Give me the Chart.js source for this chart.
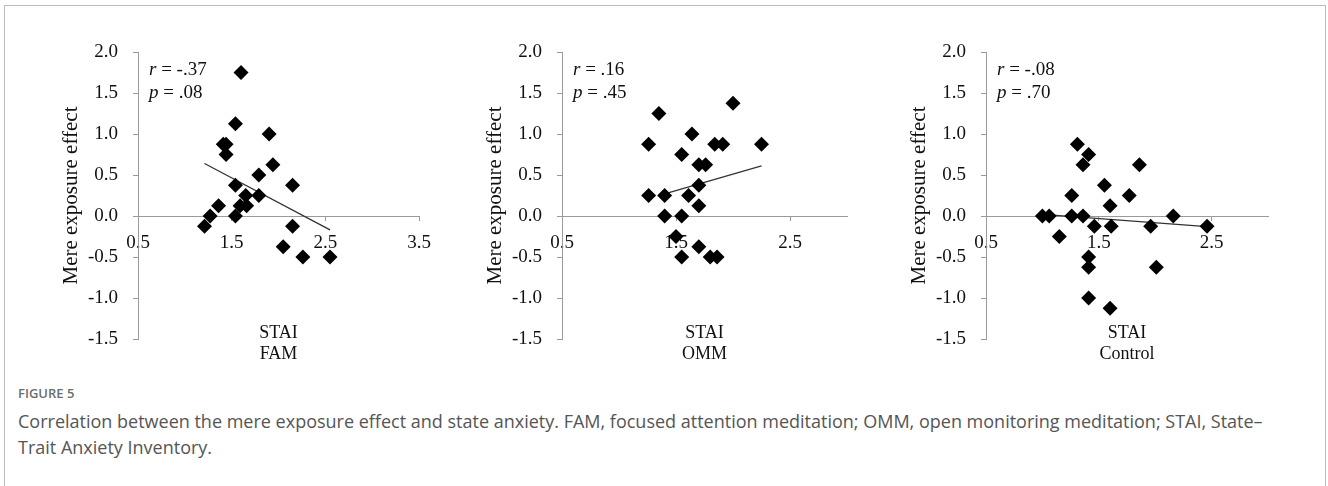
<!DOCTYPE html>
<html>
<head>
<meta charset="utf-8">
<script src="https://cdn.jsdelivr.net/npm/chart.js@4.4.1/dist/chart.umd.min.js"></script>
<style>
  body { margin: 0; background: #fff; width: 1328px; height: 486px; overflow: hidden; position: relative; }
  .frame { position: absolute; left: 4px; top: 5px; width: 1322px; height: 490px; border: 1px solid #bcbcbc; box-sizing: border-box; }
  .panel { position: absolute; top: 0; width: 440px; height: 380px; }
  .fig { position: absolute; left: 18px; top: 384px; font-family: "Open Sans", sans-serif; font-weight: 600; font-size: 13px; color: #6d6d6d; }
  .cap { position: absolute; left: 18px; top: 408px; width: 1300px; font-family: "Open Sans", sans-serif; font-size: 18px; line-height: 26px; color: #555; white-space: nowrap; }
</style>
</head>
<body>
<div class="frame"></div>
<div class="panel" style="left:40px"><canvas id="famChart"></canvas></div>
<div class="panel" style="left:464px"><canvas id="ommChart"></canvas></div>
<div class="panel" style="left:888px"><canvas id="ctrlChart"></canvas></div>
<div class="fig">FIGURE 5</div>
<div class="cap">Correlation between the mere exposure effect and state anxiety. FAM, focused attention meditation; OMM, open monitoring meditation; STAI, State–<br>Trait Anxiety Inventory.</div>
<script>
// tick labels
const yTicks = [-1.5, -1.0, -0.5, 0.0, 0.5, 1.0, 1.5, 2.0];
const xTicksFam = [0.5, 1.5, 2.5, 3.5];
const xTicksOther = [0.5, 1.5, 2.5];

// FAM
const famX = [1.60, 1.54, 1.90, 1.41, 1.44, 1.44, 1.94, 1.79, 1.54, 2.15, 1.65, 1.79, 1.36, 1.59, 1.66, 1.27, 1.54, 1.21, 2.15, 2.05, 2.26, 2.55];
const famY = [1.75, 1.125, 1.0, 0.875, 0.875, 0.75, 0.625, 0.5, 0.375, 0.375, 0.25, 0.25, 0.125, 0.125, 0.125, 0.0, 0.0, -0.125, -0.125, -0.375, -0.5, -0.5];
const famTrendX = [1.21, 2.55];
const famTrendY = [0.64, -0.17];

// OMM
const ommX = [1.35, 2.00, 1.26, 1.64, 1.55, 1.70, 1.76, 1.84, 1.91, 2.25, 1.26, 1.40, 1.61, 1.70, 1.70, 1.40, 1.55, 1.50, 1.55, 1.70, 1.80, 1.86];
const ommY = [1.25, 1.375, 0.875, 1.0, 0.75, 0.625, 0.625, 0.875, 0.875, 0.875, 0.25, 0.25, 0.25, 0.375, 0.125, 0.0, 0.0, -0.25, -0.5, -0.375, -0.5, -0.5];
const ommTrendX = [1.40, 2.25];
const ommTrendY = [0.27, 0.61];

// Control
const ctrlX = [1.31, 1.41, 1.36, 1.86, 1.55, 1.26, 1.77, 1.60, 1.00, 1.06, 1.26, 1.36, 2.16, 1.46, 1.61, 1.96, 2.46, 1.15, 1.41, 1.41, 2.01, 1.41, 1.60];
const ctrlY = [0.875, 0.75, 0.625, 0.625, 0.375, 0.25, 0.25, 0.125, 0.0, 0.0, 0.0, 0.0, 0.0, -0.125, -0.125, -0.125, -0.125, -0.25, -0.5, -0.625, -0.625, -1.0, -1.125];
const ctrlTrendX = [1.00, 2.46];
const ctrlTrendY = [0.02, -0.13];

const serif = '"Liberation Serif", "Times New Roman", serif';
const axisGray = '#9a9a9a';

function pts(xs, ys) {
  return xs.map((x, i) => ({ x: x, y: ys[i] }));
}

// r / p text and the two-line x title
const textPlugin = {
  id: 'panelText',
  afterDraw(chart) {
    const o = chart.options.plugins.panelText;
    const ctx = chart.ctx;
    const a = chart.chartArea;
    ctx.save();
    ctx.fillStyle = '#111';
    ctx.textBaseline = 'middle';
    const stats = [['r', ' = ' + o.r, 70], ['p', ' = ' + o.p, 93]];
    stats.forEach(s => {
      let x = a.left + 11;
      ctx.textAlign = 'left';
      ctx.font = 'italic 19px ' + serif;
      ctx.fillText(s[0], x, s[2]);
      x += ctx.measureText(s[0]).width;
      ctx.font = '19px ' + serif;
      ctx.fillText(s[1], x, s[2]);
    });
    ctx.textAlign = 'center';
    ctx.font = '18px ' + serif;
    const cx = (a.left + a.right) / 2;
    ctx.fillText('STAI', cx, 333);
    ctx.fillText(o.group, cx, 354);
    ctx.restore();
  }
};

function makeChart(id, xs, ys, tx, ty, xMax, xTicks, stats, rightPad) {
  new Chart(document.getElementById(id), {
    type: 'scatter',
    data: {
      datasets: [{
        data: pts(xs, ys),
        pointStyle: 'rectRot',
        pointRadius: 7.5,
        pointHoverRadius: 7.5,
        backgroundColor: '#000',
        borderColor: '#000',
        borderWidth: 0
      }, {
        data: pts(tx, ty),
        showLine: true,
        pointRadius: 0,
        borderColor: '#333',
        borderWidth: 1.3
      }]
    },
    options: {
      responsive: true,
      maintainAspectRatio: false,
      animation: false,
      layout: { padding: { left: 19, right: rightPad, top: 52, bottom: 41 } },
      plugins: {
        legend: { display: false },
        tooltip: { enabled: false },
        panelText: stats
      },
      scales: {
        x: {
          type: 'linear',
          position: { y: 0 },
          min: 0.5,
          max: xMax,
          afterFit: s => { s.height = 0; },
          afterBuildTicks: s => { s.ticks = xTicks.map(v => ({ value: v })); },
          grid: { drawOnChartArea: false, drawTicks: true, tickLength: 4, color: axisGray },
          border: { display: true, color: axisGray, width: 1 },
          ticks: {
            padding: 12,
            color: '#111',
            font: { family: serif, size: 19 },
            callback: v => v.toFixed(1)
          }
        },
        y: {
          type: 'linear',
          min: -1.5,
          max: 2.0,
          afterFit: s => { s.width = 79; },
          afterBuildTicks: s => { s.ticks = yTicks.map(v => ({ value: v })); },
          grid: { drawOnChartArea: false, drawTicks: true, tickLength: 5, color: axisGray },
          border: { display: true, color: axisGray, width: 1 },
          title: {
            display: true,
            text: 'Mere exposure effect',
            color: '#111',
            padding: 0,
            font: { family: serif, size: 21 }
          },
          ticks: {
            padding: 15,
            color: '#111',
            font: { family: serif, size: 19 },
            callback: v => v.toFixed(1)
          }
        }
      }
    },
    plugins: [textPlugin]
  });
}

makeChart('famChart', famX, famY, famTrendX, famTrendY, 3.5, xTicksFam, { r: '-.37', p: '.08', group: 'FAM' }, 61);
makeChart('ommChart', ommX, ommY, ommTrendX, ommTrendY, 3.0, xTicksOther, { r: '.16', p: '.45', group: 'OMM' }, 57);
makeChart('ctrlChart', ctrlX, ctrlY, ctrlTrendX, ctrlTrendY, 3.0, xTicksOther, { r: '-.08', p: '.70', group: 'Control' }, 60);
</script>
</body>
</html>
